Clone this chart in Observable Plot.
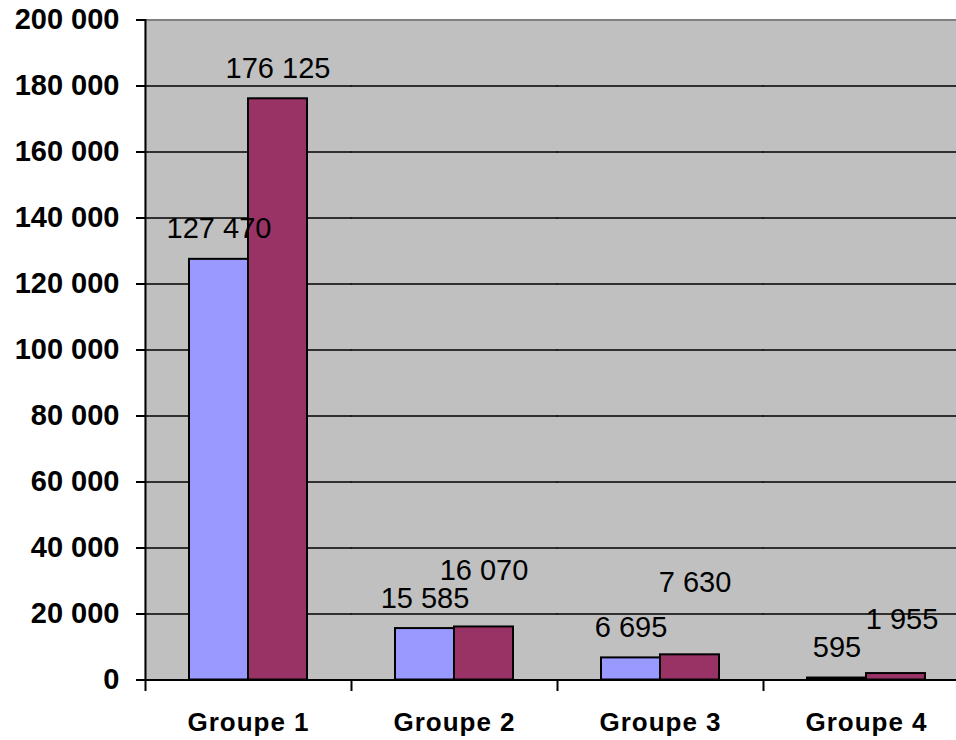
<!DOCTYPE html>
<html>
<head>
<meta charset="utf-8">
<script src="https://cdn.jsdelivr.net/npm/d3@7"></script>
<script src="https://cdn.jsdelivr.net/npm/@observablehq/plot@0.6"></script>
<style>
  html, body { margin: 0; padding: 0; background: #ffffff; overflow: hidden; }
  #chart { width: 956px; height: 740px; }
</style>
</head>
<body>
<div id="chart"></div>
<script>
// ---- data ----
const groups = ["Groupe 1", "Groupe 2", "Groupe 3", "Groupe 4"];
const seriesNames = ["Série 1", "Série 2"];
const serie1 = [127470, 15585, 6695, 595];
const serie2 = [176125, 16070, 7630, 1955];
const yTicks = [0, 20000, 40000, 60000, 80000, 100000, 120000, 140000, 160000, 180000, 200000];

// label nudges (pixels) as placed in the original: [dx, extra lift]
const labelNudge = [
  [[0, 0], [0, 0], [0, 0], [0, 0]],
  [[0, 0], [0, 26], [5, 42], [6, 24]]
];

const seriesValues = [serie1, serie2];
const rows = [];
groups.forEach((g, i) => {
  seriesNames.forEach((s, j) => {
    rows.push({group: g, series: s, value: seriesValues[j][i], nudge: labelNudge[j][i]});
  });
});

const fmt = d3.formatLocale({decimal: ",", thousands: "\u00a0", grouping: [3], currency: ["", ""]}).format(",");
const fmtSp = v => fmt(v).replace(/\u00a0/g, " ");

// one text mark per distinct nudge
const nudgeKeys = Array.from(new Set(rows.map(r => r.nudge.join(","))));
const labelMarks = nudgeKeys.map(k => {
  const sub = rows.filter(r => r.nudge.join(",") === k);
  const [dx, lift] = sub[0].nudge;
  return Plot.text(sub, {
    fx: "group", x: "series", y: "value",
    text: d => fmtSp(d.value),
    dx: dx, dy: -21 - lift,
    lineAnchor: "bottom", textAnchor: "middle",
    fontSize: 29, fill: "#000000"
  });
});

const chart = Plot.plot({
  width: 956,
  height: 740,
  marginLeft: 143,
  marginRight: -14,
  marginTop: 19.5,
  marginBottom: 60.5,
  style: {fontFamily: "'Liberation Sans', Arial, sans-serif", background: "#ffffff", overflow: "visible"},
  fx: {domain: groups, padding: 0, label: null},
  x: {domain: seriesNames, paddingInner: 0, paddingOuter: 0.744, axis: null},
  y: {domain: [0, 200000], label: null},
  color: {domain: seriesNames, range: ["#9999FF", "#993366"]},
  marks: [
    Plot.frame({fill: "#C0C0C0", stroke: null, insetLeft: -1, insetRight: -1}),
    Plot.ruleY(yTicks.filter(t => t > 0 && t < 200000), {stroke: "#000000", strokeWidth: 1.6, insetLeft: -0.5, insetRight: -0.5}),
    Plot.frame({anchor: "top", stroke: "#808080", strokeWidth: 2}),
    Plot.barY(rows, {
      fx: "group", x: "series", y: "value", fill: "series",
      stroke: "#000000", strokeWidth: 2, insetLeft: 0, insetRight: 0
    }),
    Plot.ruleY([0], {stroke: "#000000", strokeWidth: 2, insetLeft: -0.5, insetRight: -0.5}),
    Plot.frame({anchor: "left", facetAnchor: "left", stroke: "#000000", strokeWidth: 2}),
    Plot.frame({anchor: "left", stroke: "#000000", strokeWidth: 2, insetTop: 660, insetBottom: -10}),
    ...labelMarks,
    Plot.axisY({
      ticks: yTicks, tickSize: 9, tickPadding: 17, tickFormat: fmtSp,
      fontSize: 29, fontWeight: "bold", stroke: "#000000", strokeWidth: 2,
      strokeOpacity: 1, fill: "#000000", label: null
    }),
    Plot.axisFx({
      anchor: "bottom", tickSize: 0, tickPadding: 33,
      fontSize: 26, fontWeight: "bold", fill: "#000000", label: null,
      style: {letterSpacing: "1px"}
    })
  ]
});
chart.querySelectorAll("g[aria-label='fx-axis tick label'] text, g[aria-label='fx-axis tick label']").forEach(el => el.setAttribute("letter-spacing", "1"));
document.getElementById("chart").appendChild(chart);
</script>
</body>
</html>
